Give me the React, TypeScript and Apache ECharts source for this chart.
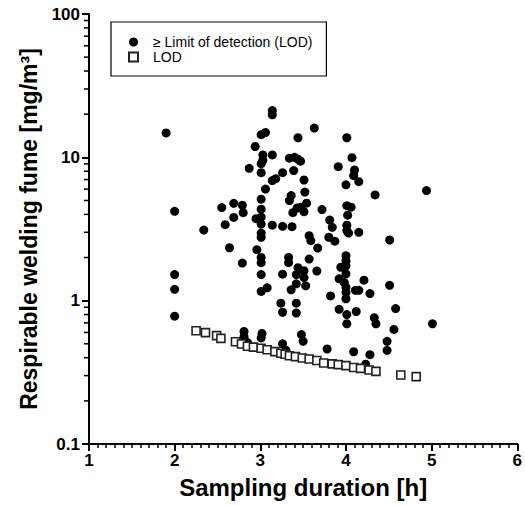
import React, { useEffect, useRef } from "react";
import * as echarts from "echarts";

// ≥ LOD measurements: sampling duration [h] and respirable welding fume [mg/m³]
const aboveHours = [
  1.90, 2.00, 2.00, 2.00, 2.00, 2.34, 2.55, 2.69, 2.79, 2.80,
  2.69, 2.59, 2.64, 2.79, 2.87, 2.94, 2.81, 2.81, 2.85, 2.95,
  2.96, 3.01, 3.06, 3.03, 3.03, 3.01, 3.01, 3.06, 3.01, 3.01,
  3.01, 3.01, 3.01, 3.01, 3.01, 3.01, 3.01, 3.01, 3.08, 3.02,
  3.01, 3.14, 3.14, 3.14, 3.14, 3.18, 3.14, 3.26, 3.26, 3.26,
  3.24, 3.26, 3.26, 3.30, 3.34, 3.40, 3.44, 3.47, 3.44, 3.39,
  3.34, 3.36, 3.38, 3.43, 3.37, 3.33, 3.33, 3.44, 3.51, 3.42,
  3.51, 3.42, 3.53, 3.36, 3.42, 3.42, 3.48, 3.50, 3.51, 3.52,
  3.54, 3.47, 3.51, 3.57, 3.59, 3.57, 3.66, 3.67, 3.63, 3.72,
  3.81, 3.84, 3.80, 3.87, 3.82, 3.78, 3.91, 4.01, 4.07, 4.10,
  4.09, 4.15, 4.00, 4.01, 4.06, 4.02, 4.01, 4.01, 4.03, 4.15,
  4.00, 4.00, 4.00, 3.94, 4.00, 3.92, 3.98, 4.00, 4.00, 4.00,
  4.21, 4.11, 4.15, 4.28, 3.92, 4.01, 4.12, 4.01, 4.33, 4.35,
  4.09, 4.28, 4.23, 4.23, 4.51, 4.51, 4.58, 4.56, 4.48, 4.48,
  4.94, 5.01, 4.34,
];
const aboveFume = [
  14.8, 4.20, 1.52, 1.20, 0.78, 3.11, 4.46, 4.78, 4.64, 4.11,
  3.81, 3.39, 2.34, 1.83, 8.38, 11.9, 0.61, 0.56, 0.51, 3.73,
  2.27, 14.4, 14.9, 10.4, 9.55, 9.03, 7.82, 6.01, 5.11, 4.35,
  3.83, 3.42, 2.96, 2.77, 2.00, 1.84, 1.52, 1.16, 1.23, 0.59,
  0.55, 21.2, 19.8, 10.4, 6.88, 7.10, 3.36, 7.82, 3.30, 1.53,
  0.96, 0.83, 0.50, 0.45, 9.87, 10.0, 9.71, 9.40, 13.7, 8.08,
  4.99, 5.41, 4.11, 4.43, 3.28, 2.00, 1.84, 1.70, 1.62, 1.52,
  1.45, 1.31, 1.27, 1.19, 0.96, 0.82, 0.58, 0.52, 6.95, 5.72,
  4.79, 4.48, 4.18, 2.84, 2.62, 1.95, 1.61, 2.33, 16.0, 4.32,
  3.65, 3.25, 2.77, 2.60, 1.08, 0.46, 8.61, 13.7, 9.95, 8.17,
  7.45, 6.76, 6.43, 4.60, 4.49, 3.95, 3.36, 3.08, 2.96, 3.00,
  2.06, 1.90, 1.75, 1.71, 1.54, 1.42, 1.34, 1.24, 1.14, 1.03,
  1.39, 1.18, 1.18, 1.12, 0.87, 0.80, 0.84, 0.69, 0.76, 0.69,
  0.44, 0.42, 0.36, 0.34, 2.65, 1.28, 0.88, 0.63, 0.52, 0.45,
  5.86, 0.69, 5.47,
];

// LOD values
const lodHours = [
  2.25, 2.36, 2.49, 2.54, 2.71, 2.78, 2.85, 2.92, 3.01, 3.08,
  3.17, 3.24, 3.29, 3.34, 3.41, 3.49, 3.57, 3.66, 3.74, 3.84,
  3.91, 4.00, 4.09, 4.17, 4.27, 4.35, 4.64, 4.82,
];
const lodFume = [
  0.617, 0.598, 0.570, 0.546, 0.517, 0.499, 0.481, 0.474, 0.466, 0.455,
  0.441, 0.430, 0.423, 0.413, 0.407, 0.398, 0.392, 0.382, 0.367, 0.362,
  0.358, 0.352, 0.342, 0.337, 0.328, 0.321, 0.303, 0.295,
];

const xTicks = [1, 2, 3, 4, 5, 6];
const yTickLabels = ["0.1", "1", "10", "100"];
const yMinorTicks = [
  0.2, 0.3, 0.4, 0.5, 0.6, 0.7, 0.8, 0.9,
  2, 3, 4, 5, 6, 7, 8, 9,
  20, 30, 40, 50, 60, 70, 80, 90,
];

const ABOVE_NAME = "\u2265 Limit of detection (LOD)";
const LOD_NAME = "LOD";
const FONT = "'Liberation Sans', Arial, Helvetica, sans-serif";

export default function App() {
  const ref = useRef<HTMLDivElement>(null);

  useEffect(() => {
    if (!ref.current) return;
    const chart = echarts.init(ref.current, null, { renderer: "svg" });
    const xMin = xTicks[0];
    const xMax = xTicks[xTicks.length - 1];
    const yMin = Number(yTickLabels[0]);
    const yMax = Number(yTickLabels[yTickLabels.length - 1]);

    chart.setOption({
      animation: false,
      backgroundColor: "#fff",
      grid: { left: 89, top: 14, right: 6, bottom: 61, containLabel: false },
      legend: {
        data: [
          { name: ABOVE_NAME, icon: "circle" },
          { name: LOD_NAME, icon: "path://M0,0H10V10H0Z" },
        ],
        orient: "vertical",
        left: 111,
        top: 22,
        padding: [13, 14, 12, 17],
        itemWidth: 9,
        itemHeight: 9,
        itemGap: 1,
        symbolKeepAspect: true,
        borderColor: "#000",
        borderWidth: 1.2,
        selectedMode: false,
        textStyle: {
          fontFamily: FONT,
          fontSize: 14,
          color: "#000",
          lineHeight: 14,
          padding: [0, 0, 0, 10],
        },
      },
      xAxis: {
        type: "value",
        min: xMin,
        max: xMax,
        interval: 1,
        name: "Sampling duration [h]",
        nameLocation: "middle",
        nameGap: 31,
        nameTextStyle: { fontFamily: FONT, fontSize: 24, fontWeight: "bold", color: "#000" },
        axisLine: { show: true, lineStyle: { color: "#000", width: 2 } },
        axisTick: { show: true, length: 7, lineStyle: { color: "#000", width: 2 } },
        minorTick: { show: true, splitNumber: 10, length: 4, lineStyle: { color: "#000", width: 1.5 } },
        splitLine: { show: false },
        axisLabel: {
          margin: 8,
          fontFamily: FONT,
          fontSize: 17,
          fontWeight: "bold",
          color: "#000",
        },
      },
      yAxis: {
        type: "log",
        logBase: 10,
        min: yMin,
        max: yMax,
        name: "Respirable welding fume [mg/m\u00b3]",
        nameLocation: "middle",
        nameGap: 42,
        nameRotate: 90,
        nameTextStyle: { fontFamily: FONT, fontSize: 23, fontWeight: "bold", color: "#000" },
        axisLine: { show: true, lineStyle: { color: "#000", width: 2 } },
        axisTick: { show: true, length: 7, lineStyle: { color: "#000", width: 2 } },
        splitLine: { show: false },
        axisLabel: {
          margin: 9,
          fontFamily: FONT,
          fontSize: 17,
          fontWeight: "bold",
          color: "#000",
          formatter: (v: number) => {
            const s = String(+v.toPrecision(3));
            return yTickLabels.includes(s) ? s : "";
          },
        },
      },
      series: [
        {
          name: "yMinorTicks",
          type: "custom",
          silent: true,
          clip: false,
          coordinateSystem: "cartesian2d",
          data: yMinorTicks.map((v) => [xMin, v]),
          encode: { x: 0, y: 1 },
          renderItem: (_params: any, api: any) => {
            const p = api.coord([api.value(0), api.value(1)]);
            return {
              type: "line",
              shape: { x1: p[0] - 5, y1: p[1], x2: p[0], y2: p[1] },
              style: { stroke: "#000", lineWidth: 1.5 },
            };
          },
          z: 1,
        },
        {
          name: ABOVE_NAME,
          type: "scatter",
          symbol: "circle",
          symbolSize: 9,
          itemStyle: { color: "#000", opacity: 1 },
          data: aboveHours.map((h, i) => [h, aboveFume[i]]),
          z: 2,
        },
        {
          name: LOD_NAME,
          type: "scatter",
          symbol: "rect",
          symbolSize: 8,
          itemStyle: { color: "#fff", borderColor: "#222", borderWidth: 1.6, opacity: 1 },
          data: lodHours.map((h, i) => [h, lodFume[i]]),
          z: 3,
        },
      ],
    });

    return () => chart.dispose();
  }, []);

  return (
    <div
      ref={ref}
      style={{ position: "fixed", left: 0, top: 0, width: 525, height: 505, background: "#fff" }}
    />
  );
}
